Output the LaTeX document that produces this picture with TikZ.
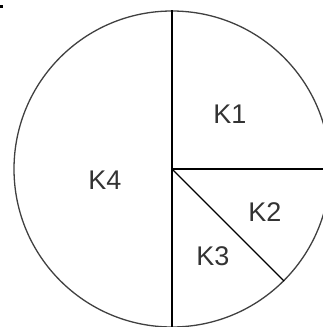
\documentclass[tikz,border=0pt]{standalone}
\usepackage{fontspec}
\setmainfont{Liberation Sans}
\usetikzlibrary{positioning}

\begin{document}
\begin{tikzpicture}[
        x=1pt, y=1pt,
        font=\fontsize{27}{29}\selectfont,
        pie/.style={
            circle,
            draw=black!75,
            line width=1.3pt,
            minimum size=316pt,
            inner sep=0pt
        },
        cut/.style={
            draw=black,
            line width=1.3pt
        },
        lbl/.style={
            text=black!80,
            inner sep=0pt
        }
    ]

    % Page frame
    \useasboundingbox (0,0) rectangle (323,327);

    % Tiny mark in the corner
    \fill[black] (0,319) rectangle (2.5,321.5);

    % Whole circle
    \coordinate (c) at (172,158);
    \node[pie] (disk) at (c) {};

    % Cuts
    \draw[cut] (disk.north) -- (disk.south);
    \draw[cut] (c) -- (disk.east);
    \draw[cut] (c) -- (disk.-45);

    % Sector labels
    \node[lbl] (k1) at (230,213) {K1};
    \node[lbl] (k4) at (105,147) {K4};
    \node[lbl] (k2) at (265,115) {K2};
    \node[lbl] (k3) at (213,71) {K3};

\end{tikzpicture}
\end{document}
